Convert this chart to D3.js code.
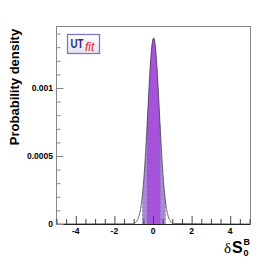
<!DOCTYPE html>
<html>
<head>
<meta charset="utf-8">
<script src="https://cdn.jsdelivr.net/npm/d3@7"></script>
<style>
  body { margin: 0; background: #fff; }
  svg { display: block; }
</style>
</head>
<body>
<svg width="279" height="264"></svg>
<script>
// data
const xs = [-5, -1.05, -1.0, -0.95, -0.9, -0.85, -0.8, -0.75, -0.7, -0.65, -0.6, -0.55, -0.5, -0.45, -0.4, -0.35, -0.3, -0.25, -0.2, -0.15, -0.1, -0.05,
  0.0, 0.05, 0.1, 0.15, 0.2, 0.25, 0.3, 0.35, 0.4, 0.45, 0.5, 0.55, 0.6, 0.65, 0.7, 0.75, 0.8, 0.85, 0.9, 0.95, 1.0, 1.05, 5];
const density = [0, 0.000002, 0.000004, 0.000007, 0.000011, 0.000019, 0.00003, 0.000047, 0.000071, 0.000105, 0.000151, 0.000211, 0.000288, 0.000381, 0.000491, 0.000614, 0.000748, 0.000886, 0.001021, 0.001144, 0.001247, 0.001322,
  0.001363, 0.001367, 0.001333, 0.001265, 0.001167, 0.001047, 0.000914, 0.000776, 0.00064, 0.000514, 0.000402, 0.000305, 0.000225, 0.000162, 0.000113, 0.000077, 0.000051, 0.000033, 0.00002, 0.000012, 0.000007, 0.000004, 0];
const range95 = [-0.55, 0.65];
const range68 = [-0.3, 0.37];
const xTicks = [-4, -2, 0, 2, 4];
const yTicks = [0, 0.0005, 0.001];

const svg = d3.select("svg");
const margin = { left: 56, top: 26, right: 251, bottom: 224 };

const x = d3.scaleLinear().domain([-5, 5]).range([margin.left + 0.5, margin.right - 1.5]);
const y = d3.scaleLinear().domain([0, 0.001456]).range([margin.bottom, margin.top]);

const pts = xs.map((d, i) => [d, density[i]]);

// value on curve at any x
function interp(v) {
  for (let i = 0; i < pts.length - 1; i++) {
    if (v >= pts[i][0] && v <= pts[i + 1][0]) {
      const t = (v - pts[i][0]) / (pts[i + 1][0] - pts[i][0]);
      return pts[i][1] + t * (pts[i + 1][1] - pts[i][1]);
    }
  }
  return 0;
}
function band(r) {
  const inside = pts.filter(p => p[0] > r[0] && p[0] < r[1]);
  return [[r[0], interp(r[0])], ...inside, [r[1], interp(r[1])]];
}

const area = d3.area().x(d => x(d[0])).y0(y(0)).y1(d => y(d[1])).curve(d3.curveMonotoneX);
const line = d3.line().x(d => x(d[0])).y(d => y(d[1])).curve(d3.curveMonotoneX);

svg.append("path").attr("d", area(band(range95))).attr("fill", "#a788d9");
svg.append("path").attr("d", area(band(range68))).attr("fill", "#a653dc");

// dashed edges of the bands
[range95[0], range95[1], range68[0], range68[1]].forEach(v => {
  svg.append("line")
    .attr("x1", x(v)).attr("x2", x(v))
    .attr("y1", y(0)).attr("y2", y(interp(v)))
    .attr("stroke", "#5a4580").attr("stroke-width", 0.5).attr("stroke-opacity", 0.7)
    .attr("stroke-dasharray", "2,2");
});

svg.append("path").attr("d", line(pts))
  .attr("fill", "none").attr("stroke", "#333").attr("stroke-width", 0.7);

// frame
svg.append("rect")
  .attr("x", margin.left + 0.5).attr("y", margin.top + 0.5)
  .attr("width", margin.right - margin.left - 1).attr("height", margin.bottom - margin.top)
  .attr("fill", "none").attr("stroke", "#888").attr("stroke-width", 1);

// x axis ticks (pointing up)
const xAxis = d3.axisBottom(x).tickValues(d3.range(-5, 5.01, 0.5)).tickSizeInner(-5).tickSizeOuter(0).tickFormat("");
const gx = svg.append("g").attr("transform", `translate(0,${margin.bottom})`).call(xAxis);
gx.select(".domain").attr("stroke", "#222");
gx.selectAll(".tick line").attr("stroke", "#444")
  .attr("y2", d => (Math.abs(d % 2) < 1e-9 ? -8 : -5));
svg.append("g").selectAll("text").data(xTicks).join("text")
  .attr("x", d => x(d)).attr("y", 234)
  .attr("text-anchor", "middle")
  .attr("font-family", "Liberation Sans, Arial, sans-serif")
  .attr("font-weight", "bold").attr("font-size", 8.5)
  .text(d => d);

// y axis ticks (pointing right)
const yAxis = d3.axisLeft(y).tickValues(d3.range(0, 0.00141, 0.0001)).tickSizeInner(-5).tickSizeOuter(0).tickFormat("");
const gy = svg.append("g").attr("transform", `translate(${margin.left + 0.5},0)`).call(yAxis);
gy.select(".domain").remove();
gy.selectAll(".tick line").attr("stroke", "#888")
  .attr("x2", (d, i) => (i % 5 === 0 ? 7 : 4));
svg.append("g").selectAll("text").data(yTicks).join("text")
  .attr("x", 53).attr("y", d => y(d) + 3)
  .attr("text-anchor", "end")
  .attr("font-family", "Liberation Sans, Arial, sans-serif")
  .attr("font-weight", "bold").attr("font-size", 8.5)
  .text(d => d === 0 ? "0" : d3.format("")(d));

// axis titles
svg.append("text")
  .attr("transform", "translate(19,87) rotate(-90)")
  .attr("text-anchor", "middle")
  .attr("font-family", "Liberation Sans, Arial, sans-serif")
  .attr("font-weight", "bold").attr("font-size", 13)
  .text("Probability density");

const xt = svg.append("g").attr("font-family", "Liberation Sans, Arial, sans-serif").attr("font-weight", "bold");
xt.append("text").attr("x", 224).attr("y", 253).attr("font-size", 15).attr("font-weight", "normal")
  .attr("font-family", "Liberation Serif, serif").text("δ");
xt.append("text").attr("x", 232).attr("y", 253).attr("font-size", 16).text("S");
xt.append("text").attr("x", 243.5).attr("y", 245).attr("font-size", 9).text("B");
xt.append("text").attr("x", 243.5).attr("y", 256).attr("font-size", 9).text("0");

// UTfit logo
const grad = svg.append("defs").append("linearGradient").attr("id", "lg")
  .attr("x1", 0).attr("y1", 0).attr("x2", 0).attr("y2", 1);
grad.append("stop").attr("offset", 0).attr("stop-color", "#ffffff");
grad.append("stop").attr("offset", 1).attr("stop-color", "#e4e4f2");
svg.append("rect").attr("x", 67.5).attr("y", 34.5).attr("width", 32).attr("height", 19)
  .attr("fill", "url(#lg)").attr("stroke", "#7a78c0").attr("stroke-width", 1.3);
svg.append("text").attr("x", 70.5).attr("y", 47.5)
  .attr("font-family", "Liberation Sans, Arial, sans-serif").attr("font-weight", "bold")
  .attr("font-size", 12).attr("fill", "#2c2a86")
  .attr("textLength", 13).attr("lengthAdjust", "spacingAndGlyphs").text("UT");
svg.append("text").attr("x", 85).attr("y", 51)
  .attr("font-family", "Liberation Sans, Arial, sans-serif").attr("font-style", "italic")
  .attr("font-size", 12).attr("fill", "#e0262a").text("fit");
</script>
</body>
</html>
